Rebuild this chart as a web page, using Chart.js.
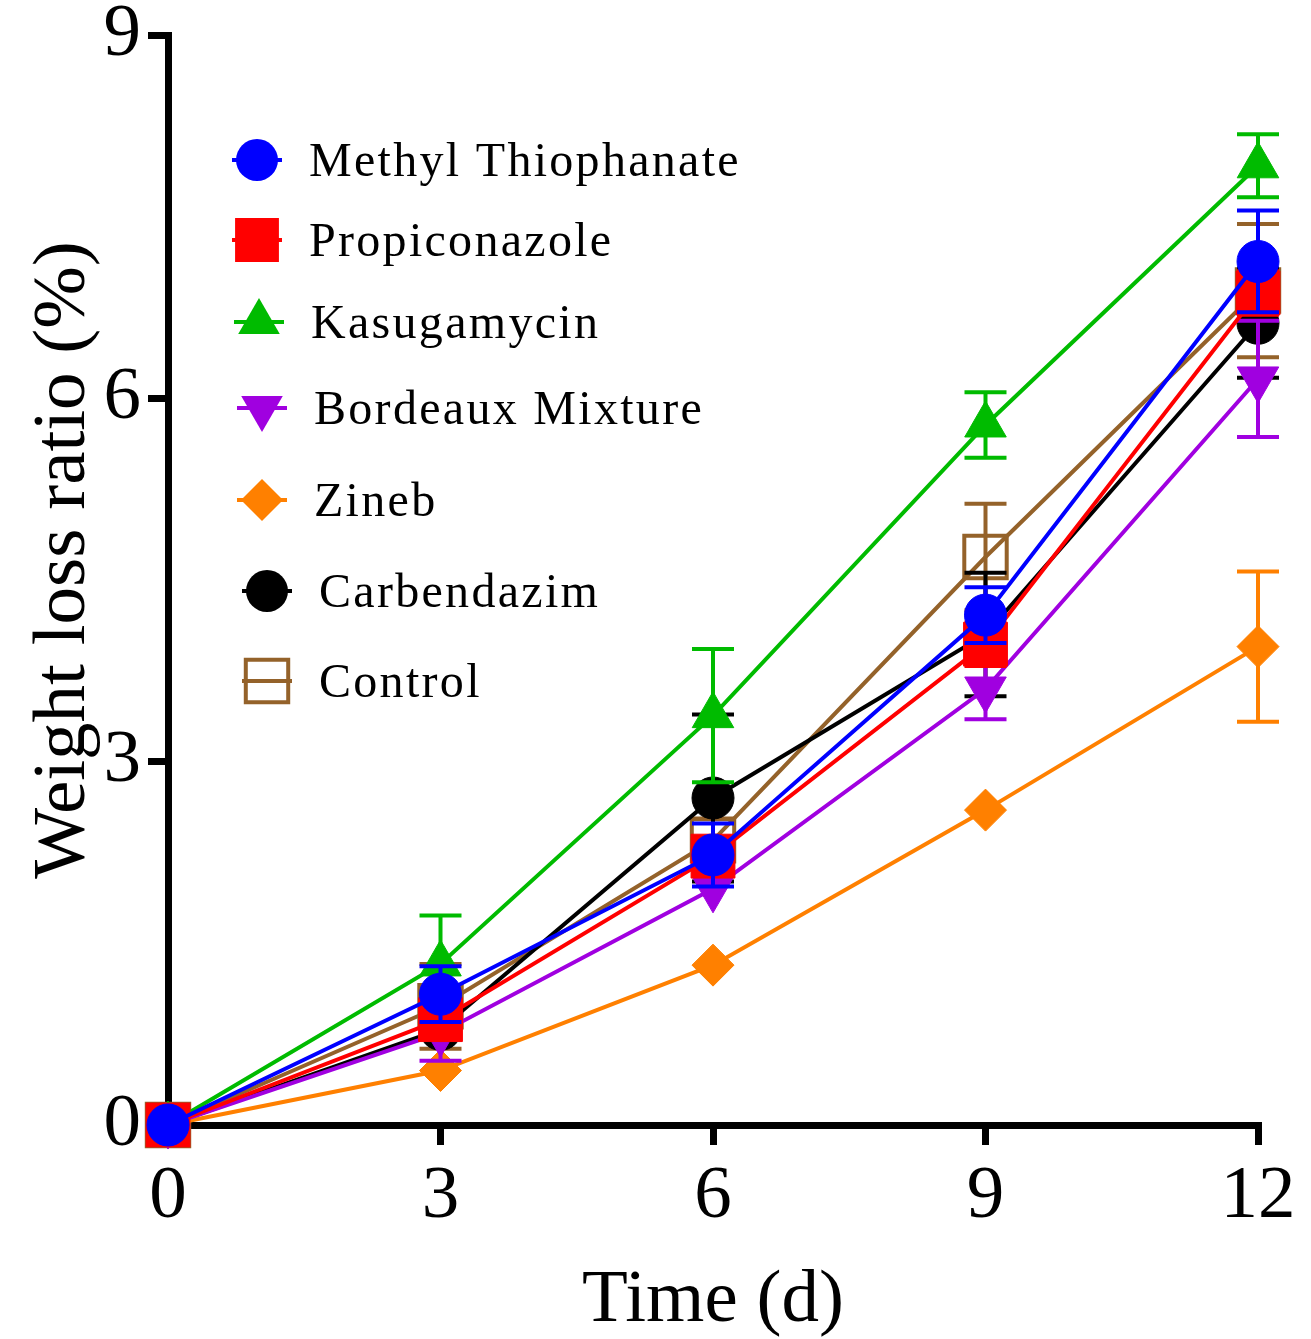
<!DOCTYPE html>
<html>
<head>
<meta charset="utf-8">
<script src="https://cdn.jsdelivr.net/npm/chart.js@4.4.1/dist/chart.umd.min.js"></script>
<style>
html, body { margin: 0; padding: 0; background: #ffffff; }
#wrap { width: 1311px; height: 1339px; }
</style>
</head>
<body>
<div id="wrap"><canvas id="c" width="1311" height="1339"></canvas></div>
<script>
// ---------------- data ----------------
const days = [0, 3, 6, 9, 12];
const xTickLabels = ['0', '3', '6', '9', '12'];
const yTickLabels = ['0', '3', '6', '9'];
const seriesNames = ['Methyl Thiophanate', 'Propiconazole', 'Kasugamycin', 'Bordeaux Mixture', 'Zineb', 'Carbendazim', 'Control'];

const methylThiophanate    = [0, 1.08, 2.23, 4.21, 7.13];
const methylThiophanateErr = [0, 0.23, 0.26, 0.23, 0.42];
const propiconazole        = [0, 0.87, 2.22, 3.97, 6.87];
const propiconazoleErr     = [0, 0.15, 0.15, 0.18, 0.18];
const kasugamycin          = [0, 1.33, 3.38, 5.78, 7.92];
const kasugamycinErr       = [0, 0.40, 0.55, 0.27, 0.26];
const bordeauxMixture      = [0, 0.76, 1.95, 3.60, 6.16];
const bordeauxMixtureErr   = [0, 0.23, 0, 0.25, 0.48];
const zineb                = [0, 0.45, 1.32, 2.60, 3.95];
const zinebErr             = [0, 0, 0, 0, 0.62];
const carbendazim          = [0, 0.79, 2.70, 4.05, 6.62];
const carbendazimErr       = [0, 0, 0.69, 0.51, 0.45];
const control              = [0, 0.98, 2.35, 4.69, 6.89];
const controlErr           = [0, 0.35, 0.18, 0.44, 0.55];

const seriesValues = [methylThiophanate, propiconazole, kasugamycin, bordeauxMixture, zineb, carbendazim, control];
const seriesErrors = [methylThiophanateErr, propiconazoleErr, kasugamycinErr, bordeauxMixtureErr, zinebErr, carbendazimErr, controlErr];

// ---------------- styles ----------------
const seriesColors = ['#0000FF', '#FF0000', '#00BB00', '#A000E0', '#FF8000', '#000000', '#94622A'];
const seriesStyles = [
  { pointStyle: 'circle',   radius: 21, rotation: 0,   fill: true },
  { pointStyle: 'rect',     radius: 31, rotation: 0,   fill: true },
  { pointStyle: 'triangle', radius: 24, rotation: 0,   fill: true },
  { pointStyle: 'triangle', radius: 24, rotation: 180, fill: true },
  { pointStyle: 'rectRot',  radius: 21, rotation: 0,   fill: true },
  { pointStyle: 'circle',   radius: 21, rotation: 0,   fill: true },
  { pointStyle: 'rect',     radius: 30, rotation: 0,   fill: false }
];
const FONT = '"Liberation Serif", "Times New Roman", Times, serif';

Chart.defaults.font.family = FONT;
Chart.defaults.color = '#000000';

// ---------------- helpers ----------------
function drawMarker(ctx, st, x, y, fill, stroke, bw) {
  const r = st.radius;
  ctx.save();
  ctx.beginPath();
  if (st.pointStyle === 'circle') {
    ctx.arc(x, y, r, 0, Math.PI * 2);
  } else if (st.pointStyle === 'rect') {
    const s = Math.SQRT1_2 * r;
    ctx.rect(x - s, y - s, 2 * s, 2 * s);
  } else if (st.pointStyle === 'rectRot') {
    ctx.moveTo(x - r, y); ctx.lineTo(x, y - r); ctx.lineTo(x + r, y); ctx.lineTo(x, y + r);
    ctx.closePath();
  } else if (st.pointStyle === 'triangle') {
    let a = st.rotation * Math.PI / 180;
    ctx.moveTo(x + Math.sin(a) * r, y - Math.cos(a) * r);
    a += 2 * Math.PI / 3;
    ctx.lineTo(x + Math.sin(a) * r, y - Math.cos(a) * r);
    a += 2 * Math.PI / 3;
    ctx.lineTo(x + Math.sin(a) * r, y - Math.cos(a) * r);
    ctx.closePath();
  }
  if (fill) { ctx.fillStyle = fill; ctx.fill(); }
  if (bw) { ctx.lineWidth = bw; ctx.strokeStyle = stroke; ctx.stroke(); }
  ctx.restore();
}

// error bars, drawn just before each dataset so that layering follows dataset order
const errorBarsPlugin = {
  id: 'errorBars',
  beforeDatasetDraw(chart, args) {
    const k = args.index;
    const vals = seriesValues[k], errs = seriesErrors[k];
    const xs = chart.scales.x, ys = chart.scales.y, ctx = chart.ctx;
    const capHalf = 21;
    ctx.save();
    ctx.strokeStyle = seriesColors[k];
    ctx.lineWidth = 4;
    ctx.lineCap = 'butt';
    for (let i = 0; i < days.length; i++) {
      const e = errs[i];
      if (!e) continue;
      const px = xs.getPixelForValue(days[i]);
      const top = ys.getPixelForValue(vals[i] + e);
      const bot = ys.getPixelForValue(vals[i] - e);
      ctx.beginPath();
      ctx.moveTo(px, top); ctx.lineTo(px, bot);
      ctx.moveTo(px - capHalf, top); ctx.lineTo(px + capHalf, top);
      ctx.moveTo(px - capHalf, bot); ctx.lineTo(px + capHalf, bot);
      ctx.stroke();
    }
    ctx.restore();
  }
};

// legend placed inside the plot area (uneven rows, as in the figure)
const legendRows = [
  { y: 160, mx: 257, tx: 309 },
  { y: 240, mx: 257, tx: 309 },
  { y: 322, mx: 259, tx: 311 },
  { y: 408, mx: 262, tx: 314 },
  { y: 500, mx: 262, tx: 314 },
  { y: 591, mx: 267, tx: 319 },
  { y: 681, mx: 267, tx: 319 }
];
const legendPlugin = {
  id: 'insideLegend',
  afterDraw(chart) {
    const ctx = chart.ctx;
    seriesNames.forEach((name, k) => {
      const row = legendRows[k];
      const st = seriesStyles[k];
      const col = seriesColors[k];
      ctx.save();
      ctx.strokeStyle = col;
      ctx.lineWidth = 4;
      ctx.beginPath();
      ctx.moveTo(row.mx - 25, row.y);
      ctx.lineTo(row.mx + 25, row.y);
      ctx.stroke();
      ctx.restore();
      drawMarker(ctx, st, row.mx, row.y, st.fill ? col : null, col, st.fill ? 0 : 4);
      ctx.save();
      ctx.fillStyle = '#000000';
      ctx.font = '48px ' + FONT;
      if ('letterSpacing' in ctx) ctx.letterSpacing = '2.3px';
      ctx.textAlign = 'left';
      ctx.textBaseline = 'alphabetic';
      ctx.fillText(name, row.tx, row.y + 16);
      ctx.restore();
    });
  }
};

// y axis title
const yTitlePlugin = {
  id: 'yTitle',
  afterDraw(chart) {
    const ctx = chart.ctx;
    ctx.save();
    ctx.translate(84, 560);
    ctx.rotate(-Math.PI / 2);
    ctx.fillStyle = '#000000';
    ctx.font = '75px ' + FONT;
    ctx.textAlign = 'center';
    ctx.textBaseline = 'alphabetic';
    ctx.fillText('Weight loss ratio (%)', 0, 0);
    ctx.restore();
  }
};

const datasets = seriesNames.map((name, k) => {
  const st = seriesStyles[k];
  const col = seriesColors[k];
  return {
    label: name,
    data: days.map((d, i) => ({ x: d, y: seriesValues[k][i] })),
    borderColor: col,
    backgroundColor: col,
    borderWidth: 4,
    tension: 0,
    fill: false,
    pointStyle: st.pointStyle,
    pointRadius: st.radius,
    pointHoverRadius: st.radius,
    pointRotation: st.rotation,
    pointBackgroundColor: st.fill ? col : 'rgba(0,0,0,0)',
    pointBorderColor: col,
    pointBorderWidth: st.fill ? 1 : 4,
    clip: false
  };
});

new Chart(document.getElementById('c').getContext('2d'), {
  type: 'line',
  data: { datasets },
  options: {
    responsive: false,
    animation: false,
    devicePixelRatio: 1,
    events: [],
    layout: { padding: { top: 35, right: 53, bottom: 0, left: 0 } },
    plugins: { legend: { display: false }, tooltip: { enabled: false } },
    scales: {
      x: {
        type: 'linear', min: 0, max: 12,
        ticks: {
          stepSize: 3, autoSkip: false, maxRotation: 0, padding: 7, color: '#000',
          font: { size: 75, lineHeight: 1.2 },
          callback: (v, i) => xTickLabels[i]
        },
        grid: { display: true, drawOnChartArea: false, drawTicks: true, tickLength: 20, tickWidth: 7, tickColor: '#000', color: '#000', lineWidth: 7 },
        border: { display: true, color: '#000', width: 7 },
        title: { display: true, text: 'Time (d)', color: '#000', font: { size: 75, lineHeight: 1 }, padding: 0 },
        afterFit: (s) => { s.height = 214; s.paddingLeft = 0; s.paddingRight = 0; }
      },
      y: {
        type: 'linear', min: 0, max: 9,
        ticks: {
          stepSize: 3, autoSkip: false, padding: 7, color: '#000',
          font: { size: 75, lineHeight: 1.2 },
          callback: (v, i) => yTickLabels[i]
        },
        grid: { display: true, drawOnChartArea: false, drawTicks: true, tickLength: 20, tickWidth: 7, tickColor: '#000', color: '#000', lineWidth: 7 },
        border: { display: true, color: '#000', width: 7 },
        title: { display: false },
        afterFit: (s) => { s.width = 168; s.paddingTop = 0; s.paddingBottom = 0; }
      }
    }
  },
  plugins: [errorBarsPlugin, legendPlugin, yTitlePlugin]
});
</script>
</body>
</html>
